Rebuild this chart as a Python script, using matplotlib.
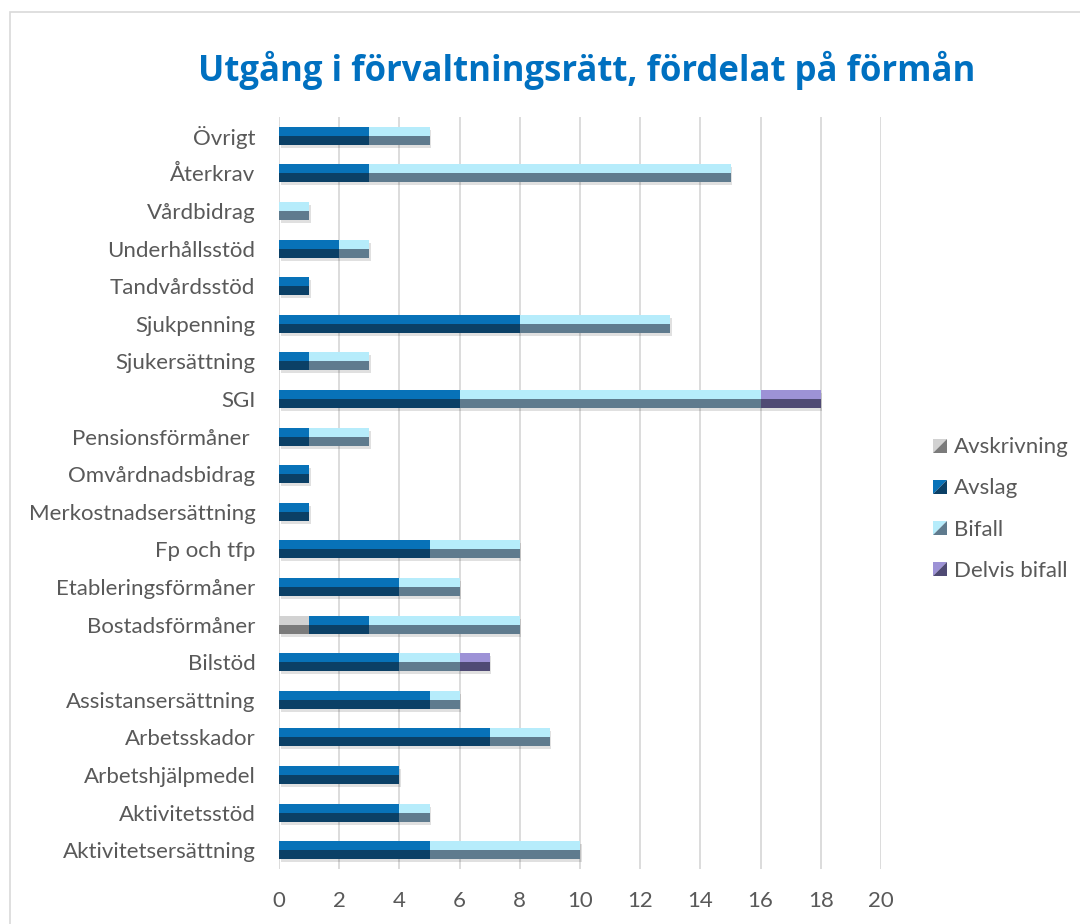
import matplotlib
matplotlib.use("Agg")
import matplotlib.pyplot as plt
import numpy as np
from matplotlib.patches import Rectangle, Polygon
from matplotlib.legend_handler import HandlerBase

categories = ["Aktivitetsersättning", "Aktivitetsstöd", "Arbetshjälpmedel", "Arbetsskador",
              "Assistansersättning", "Bilstöd", "Bostadsförmåner", "Etableringsförmåner",
              "Fp och tfp", "Merkostnadsersättning", "Omvårdnadsbidrag", "Pensionsförmåner ",
              "SGI", "Sjukersättning", "Sjukpenning", "Tandvårdsstöd", "Underhållsstöd",
              "Vårdbidrag", "Återkrav", "Övrigt"]
avskrivning = [0, 0, 0, 0, 0, 0, 1, 0, 0, 0, 0, 0, 0, 0, 0, 0, 0, 0, 0, 0]
avslag      = [5, 4, 4, 7, 5, 4, 2, 4, 5, 1, 1, 1, 6, 1, 8, 1, 2, 0, 3, 3]
bifall      = [5, 1, 0, 2, 1, 2, 5, 2, 3, 0, 0, 2, 10, 2, 5, 0, 1, 1, 12, 2]
delvis      = [0, 0, 0, 0, 0, 1, 0, 0, 0, 0, 0, 0, 2, 0, 0, 0, 0, 0, 0, 0]
series_names = ["Avskrivning", "Avslag", "Bifall", "Delvis bifall"]
xticks = [0, 2, 4, 6, 8, 10, 12, 14, 16, 18, 20]
title = "Utgång i förvaltningsrätt, fördelat på förmån"

light = ["#d2d2d2", "#0872b8", "#b6ecfb", "#9d92d6"]
dark = ["#7b7b7b", "#0b4066", "#5f7b8e", "#4f4a74"]

fig = plt.figure(figsize=(10.8, 9.24), dpi=100)
fig.patches.append(Rectangle((10/1080, -0.1), 1.2, 1 - 12/924 + 0.1, transform=fig.transFigure,
                             fill=False, edgecolor="#d9d9d9", linewidth=1.2))
ax = fig.add_axes([279/1080, 55/924, 602/1080, 752/924])

y = np.arange(len(categories))
h = 0.48
data = [np.array(avskrivning), np.array(avslag), np.array(bifall), np.array(delvis)]
left = np.zeros(len(categories))
total = sum(data)
# shadow
ax.barh(y - 0.08, total, height=h, left=0.05, color="#000000", alpha=0.12, zorder=2, linewidth=0)
for i, vals in enumerate(data):
    ax.barh(y + h/4, vals, height=h/2, left=left, color=light[i], zorder=3, linewidth=0)
    ax.barh(y - h/4, vals, height=h/2, left=left, color=dark[i], zorder=3, linewidth=0)
    left = left + vals

ax.set_xlim(0, 20)
ax.set_ylim(-0.5, len(categories) - 0.5)
ax.set_xticks(xticks)
ax.set_yticks(y)
ax.set_yticklabels(categories, fontfamily="Lato", fontsize=16, color="#595959")
ax.tick_params(axis="y", length=0, pad=17)
ax.tick_params(axis="x", length=0, pad=16, labelsize=16, labelcolor="#595959")
for lab in ax.get_xticklabels():
    lab.set_fontfamily("Lato")
ax.grid(axis="x", color="#d9d9d9", linewidth=1.3, zorder=0)
ax.set_axisbelow(True)
for s in ax.spines.values():
    s.set_visible(False)

fig.text(587/1080, 1 - 70/924, title, ha="center", va="center", fontsize=25,
         fontweight="bold", color="#0070c0", fontfamily="Open Sans")

class BevelHandler(HandlerBase):
    def __init__(self, lc, dc):
        super().__init__()
        self.lc, self.dc = lc, dc
    def create_artists(self, legend, orig_handle, xdescent, ydescent, width, height, fontsize, trans):
        s = min(width, height)
        x0 = -xdescent + width - s
        y0 = -ydescent
        p1 = Polygon([[x0, y0], [x0, y0 + s], [x0 + s, y0 + s]], closed=True, facecolor=self.lc,
                     edgecolor="none", transform=trans)
        p2 = Polygon([[x0, y0], [x0 + s, y0], [x0 + s, y0 + s]], closed=True, facecolor=self.dc,
                     edgecolor="none", transform=trans)
        return [p1, p2]

handles = [Rectangle((0, 0), 1, 1) for _ in series_names]
hmap = {hd: BevelHandler(light[i], dark[i]) for i, hd in enumerate(handles)}
leg = fig.legend(handles, series_names, handler_map=hmap, loc="center left",
                 bbox_to_anchor=(913/1080, 1 - 509/924), frameon=False,
                 prop={"family": "Lato", "size": 16}, labelspacing=0.95,
                 handlelength=0.65, handleheight=0.65, handletextpad=0.3)
for t in leg.get_texts():
    t.set_color("#595959")

fig.savefig("out.png", dpi=100)
